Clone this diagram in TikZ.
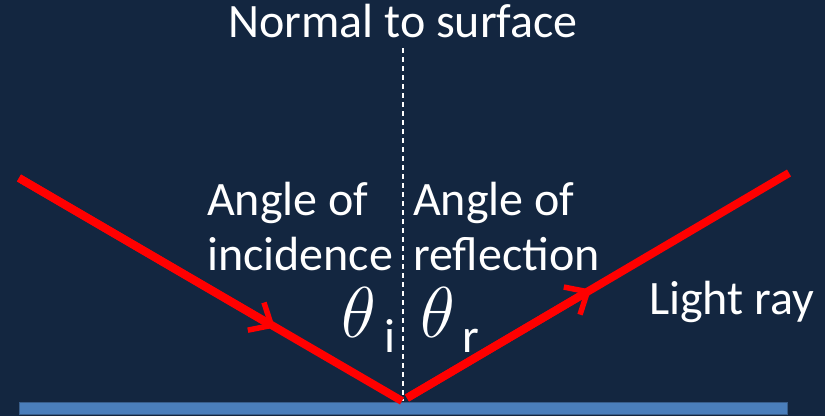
\RequirePackage{fix-cm}
\documentclass[tikz,border=0pt]{standalone}
\usepackage{fontspec}
\setmainfont{Carlito}
\usetikzlibrary{arrows.meta}
\definecolor{bgnavy}{HTML}{132640}
\definecolor{surfblue}{HTML}{4A7EBB}
\definecolor{surfedge}{HTML}{385D8A}
\definecolor{rayred}{HTML}{FF0000}
\tikzset{
  lbl/.style={text=white, inner sep=0pt, anchor=base west, font=\fontsize{48}{48}\selectfont},
  thetalbl/.style={text=white, inner sep=0pt, anchor=base west, text height=40pt, text depth=0pt, font=\fontsize{72}{72}\selectfont},
  ray/.style={draw=rayred, line width=8pt},
  raytip/.style={draw=rayred, line width=8pt, -{Straight Barb[length=18pt, width=32pt, line width=5.5pt]}},
  normalline/.style={draw=white, line width=1.5pt, dash pattern=on 5pt off 4pt},
}
\begin{document}
\begin{tikzpicture}[x=1pt, y=-1pt]
\fill[bgnavy] (0,0) rectangle (825,416);
\useasboundingbox (0,0) rectangle (825,416);
% surface
\filldraw[fill=surfblue, draw=surfedge, line width=1pt] (19.5,402) rectangle (787,414);
% normal
\coordinate (ntop) at (403,48);
\coordinate (nbot) at (403,401);
\draw[normalline] (ntop) -- (nbot);
% rays
\coordinate (A) at (19,178);
\coordinate (O) at (402,401);
\coordinate (O2) at (407,398);
\coordinate (B) at (789,173);
\coordinate (P1) at (275,327.5);
\coordinate (P2) at (591,289.6);
\draw[ray] (A) -- (O);
\draw[ray] (O2) -- (B);
\draw[raytip] (A) -- (P1);
\draw[raytip] (O2) -- (P2);
% labels
\node[text=white, inner sep=0pt, anchor=base, font=\fontsize{48}{48}\selectfont] (normal) at (403,37) {Normal to surface};
\node[lbl] (inc1) at (207,215) {Angle of};
\node[lbl] (inc2) at (207,270) {incidence};
\node[lbl] (ref1) at (413,215) {Angle of};
\node[lbl] (ref2) at (413,270) {reflection};
\node[lbl] (light) at (649,314) {Light ray};
\node[thetalbl] (thi) at (341,337) {$\theta$};
\node[lbl] (subi) at (384,352) {i};
\node[thetalbl] (thr) at (420,337) {$\theta$};
\node[lbl] (subr) at (462,352) {r};
\end{tikzpicture}
\end{document}
